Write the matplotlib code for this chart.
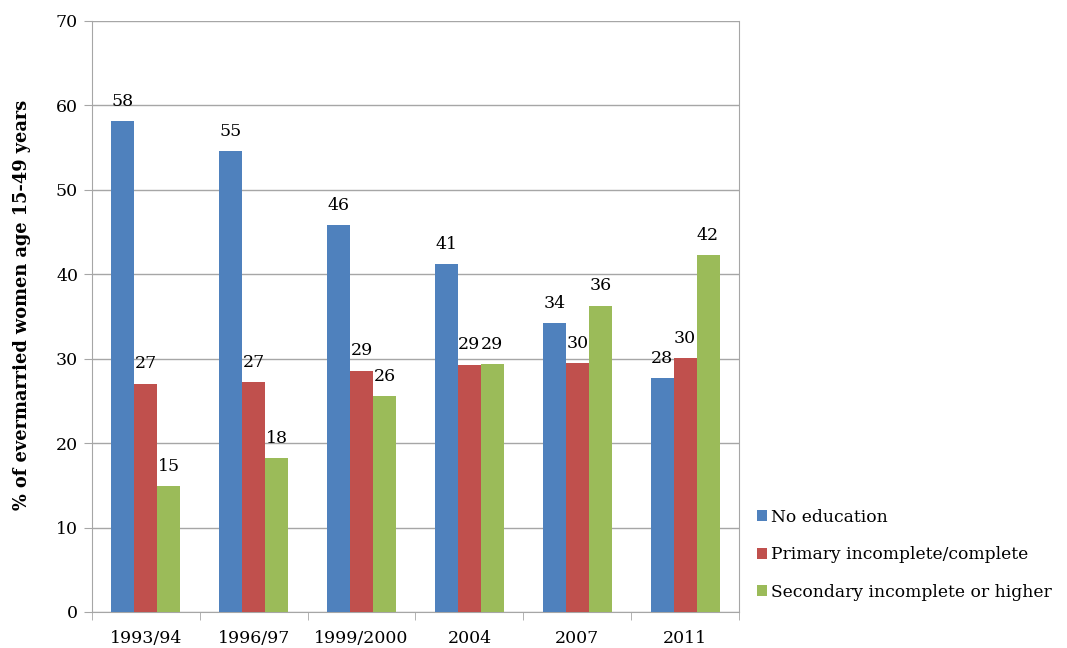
import matplotlib
matplotlib.use("Agg")
import matplotlib.pyplot as plt
import numpy as np

years = ["1993/94", "1996/97", "1999/2000", "2004", "2007", "2011"]
no_edu = [58.1, 54.6, 45.8, 41.2, 34.2, 27.7]
primary = [27.05, 27.2, 28.6, 29.3, 29.5, 30.05]
secondary = [14.9, 18.2, 25.6, 29.4, 36.3, 42.3]
series_names = ["No education", "Primary incomplete/complete",
                "Secondary incomplete or higher"]
colors = ["#4F81BD", "#C0504D", "#9BBB59"]

plt.rcParams['font.family'] = ['DejaVu Serif']

fig = plt.figure(figsize=(10.67, 6.48), dpi=100)
ax = fig.add_axes([0.0862, 0.0556, 0.6064, 0.912])

x = np.arange(len(years))
w = 0.213
gris = "#A6A6A6"
for i, vals in enumerate([no_edu, primary, secondary]):
    pos = x + (i - 1) * w
    ax.bar(pos, vals, w, color=colors[i], label=series_names[i], zorder=3)
    for p, v in zip(pos, vals):
        ax.annotate(f"{v:.0f}", (p, v), xytext=(0, 8), textcoords="offset points",
                    ha="center", va="bottom", fontsize=12.5)

ax.set_ylim(0, 70)
ax.set_xlim(-0.5, len(years) - 0.5)
ax.set_yticks(range(0, 71, 10))
ax.yaxis.grid(True, color=gris, lw=1, zorder=0)
ax.set_xticks(x)
ax.set_xticklabels(years)
ax.set_xticks(np.arange(-0.5, len(years), 1), minor=True)
ax.tick_params(axis="x", which="major", length=0, labelsize=12.5, pad=13)
ax.tick_params(axis="x", which="minor", length=6, color=gris)
ax.tick_params(axis="y", length=6, color=gris, labelsize=12.5, pad=4)
ax.spines["top"].set_visible(False)
for s in ["left", "bottom", "right"]:
    ax.spines[s].set_color(gris)

ax.set_ylabel("% of evermarried women age 15-49 years", fontsize=12.8,
              fontweight="bold")
ax.yaxis.set_label_coords(-0.094, 0.519)

ax.legend(loc="lower left", bbox_to_anchor=(1.004, -0.007), frameon=False,
          fontsize=12.3, handlelength=0.6, handleheight=0.6, handletextpad=0.2,
          labelspacing=1.2)

fig.savefig("out.png", dpi=100)
